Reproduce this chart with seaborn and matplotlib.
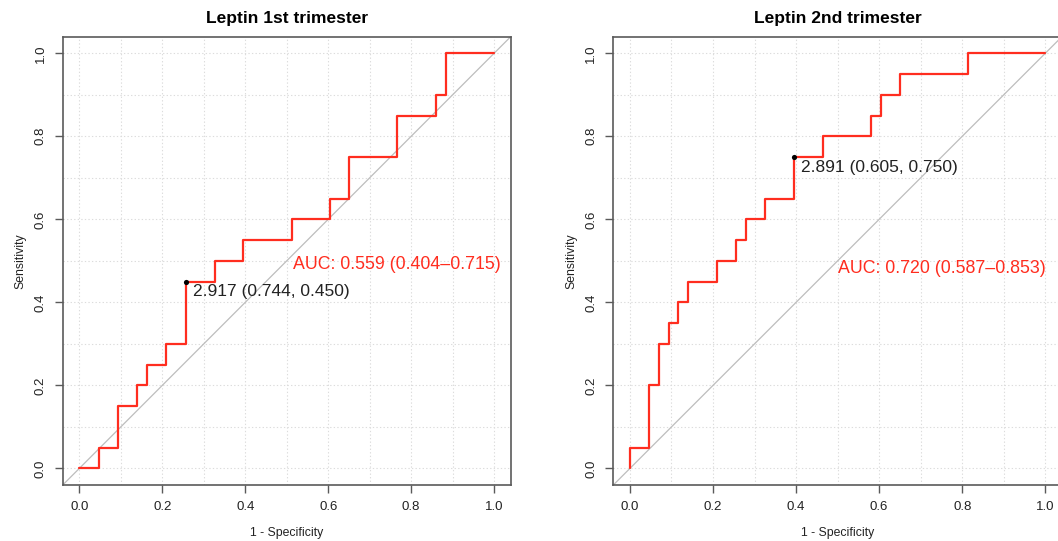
import matplotlib
matplotlib.use("Agg")
import matplotlib.pyplot as plt
import seaborn as sns
import pandas as pd
from matplotlib.ticker import MultipleLocator

# ---------------- data ----------------
titles = ["Leptin 1st trimester", "Leptin 2nd trimester"]

# ROC vertices: 1 - specificity (x) and sensitivity (y)
fpr_1st = [0.0, 0.047, 0.047, 0.093, 0.093, 0.140, 0.140, 0.163, 0.163, 0.209, 0.209,
           0.256, 0.256, 0.326, 0.326, 0.395, 0.395, 0.512, 0.512, 0.605, 0.605,
           0.651, 0.651, 0.767, 0.767, 0.860, 0.860, 0.884, 0.884, 1.0]
tpr_1st = [0.0, 0.0, 0.05, 0.05, 0.15, 0.15, 0.20, 0.20, 0.25, 0.25, 0.30,
           0.30, 0.45, 0.45, 0.50, 0.50, 0.55, 0.55, 0.60, 0.60, 0.65,
           0.65, 0.75, 0.75, 0.85, 0.85, 0.90, 0.90, 1.0, 1.0]

fpr_2nd = [0.0, 0.0, 0.047, 0.047, 0.070, 0.070, 0.093, 0.093, 0.116, 0.116, 0.140,
           0.140, 0.209, 0.209, 0.256, 0.256, 0.279, 0.279, 0.326, 0.326, 0.395,
           0.395, 0.465, 0.465, 0.581, 0.581, 0.605, 0.605, 0.651, 0.651, 0.814,
           0.814, 1.0]
tpr_2nd = [0.0, 0.05, 0.05, 0.20, 0.20, 0.30, 0.30, 0.35, 0.35, 0.40, 0.40,
           0.45, 0.45, 0.50, 0.50, 0.55, 0.55, 0.60, 0.60, 0.65, 0.65,
           0.75, 0.75, 0.80, 0.80, 0.85, 0.85, 0.90, 0.90, 0.95, 0.95,
           1.0, 1.0]

# best thresholds: threshold, specificity, sensitivity
thresholds = [2.917, 2.891]
best_spec = [0.744, 0.605]
best_sens = [0.450, 0.750]

auc_vals = [0.559, 0.720]
auc_lo = [0.404, 0.587]
auc_hi = [0.715, 0.853]

tick_vals = [0.0, 0.2, 0.4, 0.6, 0.8, 1.0]
tick_labels = ["0.0", "0.2", "0.4", "0.6", "0.8", "1.0"]

# ---------------- style ----------------
sns.set_style("white")
plt.rcParams["font.family"] = ["Liberation Sans", "DejaVu Sans"]

RED = "#ff2d1f"
FRAME = "#5a5a5a"
TEXT = "#222222"

fig = plt.figure(figsize=(10.58, 5.41), dpi=100)
positions = [[0.0593, 0.1035, 0.4234, 0.8287],
             [0.5797, 0.1035, 0.4240, 0.8287]]

curves = [(fpr_1st, tpr_1st), (fpr_2nd, tpr_2nd)]
auc_pos = [(0.515, 0.49), (0.501, 0.482)]

for i in range(2):
    ax = fig.add_axes(positions[i])
    fpr, tpr = curves[i]
    df = pd.DataFrame({"fpr": fpr, "tpr": tpr, "order": range(len(fpr))})

    ax.set_xlim(-0.04, 1.04)
    ax.set_ylim(-0.04, 1.04)

    # grid at 0.1
    ax.xaxis.set_major_locator(MultipleLocator(0.2))
    ax.yaxis.set_major_locator(MultipleLocator(0.2))
    ax.xaxis.set_minor_locator(MultipleLocator(0.1))
    ax.yaxis.set_minor_locator(MultipleLocator(0.1))
    ax.grid(True, which="both", color="#dcdcdc", linestyle=(0, (1.2, 2.0)), linewidth=0.8)
    ax.set_axisbelow(True)

    # chance diagonal
    ax.axline((0, 0), (1, 1), color="#bdbdbd", linewidth=0.9, zorder=2)

    sns.lineplot(data=df, x="fpr", y="tpr", sort=False, estimator=None,
                 color=RED, linewidth=1.6, ax=ax, zorder=3)

    # best threshold point
    bx = 1 - best_spec[i]
    by = best_sens[i]
    sns.scatterplot(x=[bx], y=[by], color="black", s=14, linewidth=0, ax=ax, zorder=4)
    ax.annotate(f"{thresholds[i]:.3f} ({best_spec[i]:.3f}, {best_sens[i]:.3f})",
                xy=(bx, by), xytext=(7, -10), textcoords="offset pixels",
                ha="left", va="center", fontsize=12.5, color=TEXT)

    ax.text(auc_pos[i][0], auc_pos[i][1],
            f"AUC: {auc_vals[i]:.3f} ({auc_lo[i]:.3f}\u2013{auc_hi[i]:.3f})",
            ha="left", va="center", fontsize=12.8, color=RED)

    ax.set_xticks(tick_vals)
    ax.set_xticklabels(tick_labels)
    ax.set_yticks(tick_vals)
    ax.set_yticklabels(tick_labels, rotation=90, va="center")
    ax.tick_params(axis="both", which="major", direction="out", length=5.5, width=1.0,
                   color=FRAME, labelsize=9.5, labelcolor=TEXT, pad=6,
                   bottom=True, left=True)
    ax.tick_params(axis="both", which="minor", length=0)

    for sp in ax.spines.values():
        sp.set_color(FRAME)
        sp.set_linewidth(1.2)
        sp.set_visible(True)

    ax.set_xlabel("1 - Specificity", fontsize=8.8, color=TEXT, labelpad=10)
    ax.set_ylabel("Sensitivity", fontsize=8.8, color=TEXT, labelpad=6)
    ax.set_title(titles[i], fontsize=12.5, fontweight="bold", color="black", pad=10)

fig.savefig("out.png", dpi=100)
